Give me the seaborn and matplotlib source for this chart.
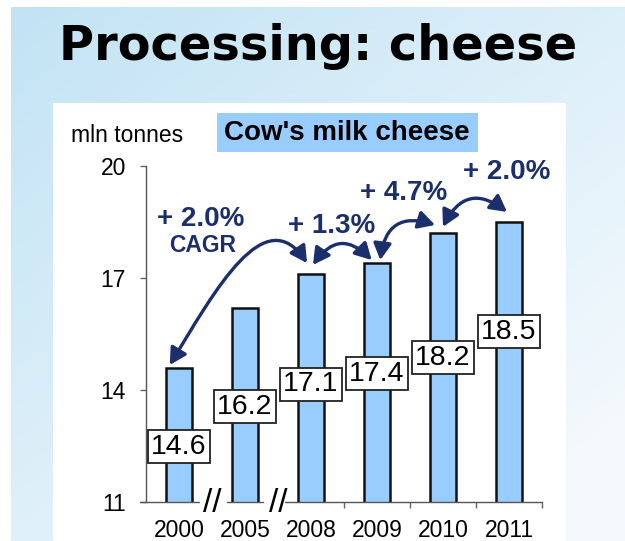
import numpy as np
import matplotlib
matplotlib.use("Agg")
import matplotlib.pyplot as plt
import seaborn as sns
from matplotlib.patches import Rectangle, FancyArrowPatch
from matplotlib.path import Path

# 데이터
years = ["2000", "2005", "2008", "2009", "2010", "2011"]
volume = [14.6, 16.2, 17.1, 17.4, 18.2, 18.5]
growth_labels = ["+ 2.0%", "+ 1.3%", "+ 4.7%", "+ 2.0%"]

sns.set_style("ticks")
plt.rcParams['font.family'] = ['Liberation Sans', 'DejaVu Sans']
plt.rcParams['text.color'] = 'black'

W, H = 625, 541
fig = plt.figure(figsize=(W / 100, H / 100), dpi=100)
fig.patch.set_facecolor("white")

# 배경 그라데이션
bg = fig.add_axes([11 / W, 0, 1 - 11 / W, 1 - 7 / H])
gx, gy = np.meshgrid(np.linspace(0, 1, 200), np.linspace(0, 1, 200))
t = np.clip(0.55 * gx + 0.6 * gy, 0, 1)[..., None]
c0 = np.array([194, 227, 244]) / 255
c1 = np.array([243, 249, 253]) / 255
bg.imshow(c0 + (c1 - c0) * t, aspect="auto", extent=[0, 1, 0, 1], origin="upper")
bg.set_axis_off()

# 흰 패널
fig.patches.append(Rectangle((53 / W, 0), (566 - 53) / W, (H - 103) / H,
                             transform=fig.transFigure, fc="white", ec="none", zorder=1))

# 제목
fig.text(318 / W, 1 - 60 / H, "Processing: cheese", ha="center", va="baseline",
         fontsize=34.5, fontweight="bold", family="DejaVu Sans", color="black", zorder=5)

# 소제목 박스
fig.patches.append(Rectangle((217 / W, 1 - 152 / H), (478 - 217) / W, 39 / H,
                             transform=fig.transFigure, fc="#99ccff", ec="none", zorder=2))
fig.text(347 / W, 1 - 133 / H, "Cow's milk cheese", ha="center", va="center",
         fontsize=20, fontweight="bold", color="black", zorder=5)
fig.text(127 / W, 1 - 142 / H, "mln tonnes", ha="center", va="baseline",
         fontsize=16.5, color="black", zorder=5)

# 메인 축
ax = fig.add_axes([146 / W, 1 - 502 / H, (542 - 146) / W, (502 - 166) / H])
ax.set_facecolor("none")
ax.set_zorder(3)
sns.barplot(x=years, y=volume, ax=ax, width=0.4, color="#99ccff", saturation=1,
            edgecolor="#111111", linewidth=1.8)
ax.set_ylim(11, 20)
ax.set_xlim(-0.5, 5.5)
ax.set_yticks([11, 14, 17, 20])
ax.tick_params(axis="y", labelsize=16.5, length=4.5, width=1, color="#666666",
               pad=10, labelcolor="black")
ax.tick_params(axis="x", labelsize=16.5, length=0, pad=12, labelcolor="black")
ax.set_xticks([2.5, 3.5, 4.5, 5.5], minor=True)
ax.tick_params(axis="x", which="minor", length=4, width=1, color="#666666")
for s in ["top", "right", "bottom"]:
    ax.spines[s].set_visible(False)
ax.spines["left"].set_color("#555555")
ax.spines["left"].set_linewidth(1)
ax.set_xlabel("")
ax.set_ylabel("")

# 끊긴 x축
for a, b in [(-0.59, 0.30), (0.72, 1.27), (1.6, 5.5)]:
    ax.plot([a, b], [11, 11], color="#555555", lw=1, clip_on=False, zorder=4)
for xb in [0.51, 1.51]:
    ax.text(xb, 10.97, "//", ha="center", va="center", fontsize=24, clip_on=False)

# 값 박스
label_y = [12.48, 13.55, 14.15, 14.44, 14.87, 15.56]
for i, v in enumerate(volume):
    ax.text(i, label_y[i], f"{v}", ha="center", va="center", fontsize=20.5, zorder=6,
            bbox=dict(boxstyle="square,pad=0.12", fc="white", ec="#222222", lw=1.3))

navy = "#1b2f6c"
astyle = "<|-|>,head_length=0.55,head_width=0.3"

# 2000 -> 2008 화살표 (곡선)
p0 = (-0.14, volume[0] + 0.07)
p3 = (1.94, volume[2] + 0.30)
verts = [p0, (0.55, 16.68), (1.30, 19.09), p3]
path = Path(verts, [Path.MOVETO, Path.CURVE4, Path.CURVE4, Path.CURVE4])
arr = FancyArrowPatch(path=path, arrowstyle=astyle, mutation_scale=18,
                      color=navy, lw=2.4, zorder=5)
ax.add_patch(arr)

# 나머지 화살표
arrows = [
    ((2.03, volume[2] + 0.25), (2.92, volume[3] + 0.08), -0.6),
    ((3.05, volume[3] + 0.08), (3.88, volume[4] + 0.22), -0.6),
    ((4.00, volume[4] + 0.17), (4.97, volume[5] + 0.27), -0.6),
]
for a, b, rad in arrows:
    ax.add_patch(FancyArrowPatch(a, b, connectionstyle=f"arc3,rad={rad}",
                                 arrowstyle=astyle, mutation_scale=18, color=navy,
                                 lw=2.4, shrinkA=0, shrinkB=0, zorder=5))

# 성장률 텍스트
label_pos = [(0.33, 18.58), (2.32, 18.39), (3.41, 19.28), (4.97, 19.84)]
for (x, y), s in zip(label_pos, growth_labels):
    ax.text(x, y, s, ha="center", va="center", fontsize=20, fontweight="bold",
            color=navy, clip_on=False)
ax.text(0.36, 17.87, "CAGR", ha="center", va="center", fontsize=16.5,
        fontweight="bold", color=navy)

fig.savefig("out.png", dpi=100)
